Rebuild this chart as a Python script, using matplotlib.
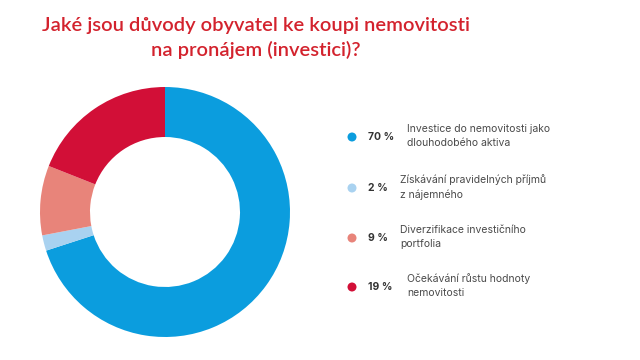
import matplotlib.pyplot as plt
from matplotlib.patches import Ellipse

# data
labels = ["Investice do nemovitosti jako\ndlouhodobého aktiva",
          "Získávání pravidelných příjmů\nz nájemného",
          "Diverzifikace investičního\nportfolia",
          "Očekávání růstu hodnoty\nnemovitosti"]
values = [70, 2, 9, 19]
colors = ["#0b9dde", "#a9d2f0", "#e8847a", "#d20f37"]
title = "Jaké jsou důvody obyvatel ke koupi nemovitosti\nna pronájem (investici)?"

W, H = 640, 360
fig = plt.figure(figsize=(6.4, 3.6), dpi=100)
fig.patch.set_facecolor("white")

def fx(x):
    return x / W

def fy(y):
    return 1 - y / H

# donut
ax = fig.add_axes([fx(40), fy(337), 250 / W, 250 / H])
ax.pie(values, colors=colors, startangle=90, counterclock=False,
       radius=1, wedgeprops=dict(width=0.4, linewidth=0))
ax.set_xlim(-1, 1)
ax.set_ylim(-1, 1)
ax.set_aspect("equal")
ax.axis("off")

fig.text(fx(256), fy(38), title, ha="center", va="center", color="#d3222d",
         fontsize=14.5, fontweight="semibold", family="Lato", linespacing=1.45)

# legend
ys = [137, 188, 238, 287]
label_x = [407, 400, 400, 407]
for i in range(len(values)):
    fig.patches.append(Ellipse((fx(352), fy(ys[i])), 9 / W, 9 / H,
                               transform=fig.transFigure,
                               facecolor=colors[i], edgecolor="none"))
    fig.text(fx(368), fy(ys[i]), f"{values[i]} %", ha="left", va="center",
             fontsize=7.5, fontweight="bold", color="#333333", family="Inter")
    fig.text(fx(label_x[i]), fy(ys[i] - 1), labels[i], ha="left", va="center",
             fontsize=7.5, color="#4a4a4a", family="Inter", linespacing=1.5)

fig.savefig("out.png", dpi=100)
